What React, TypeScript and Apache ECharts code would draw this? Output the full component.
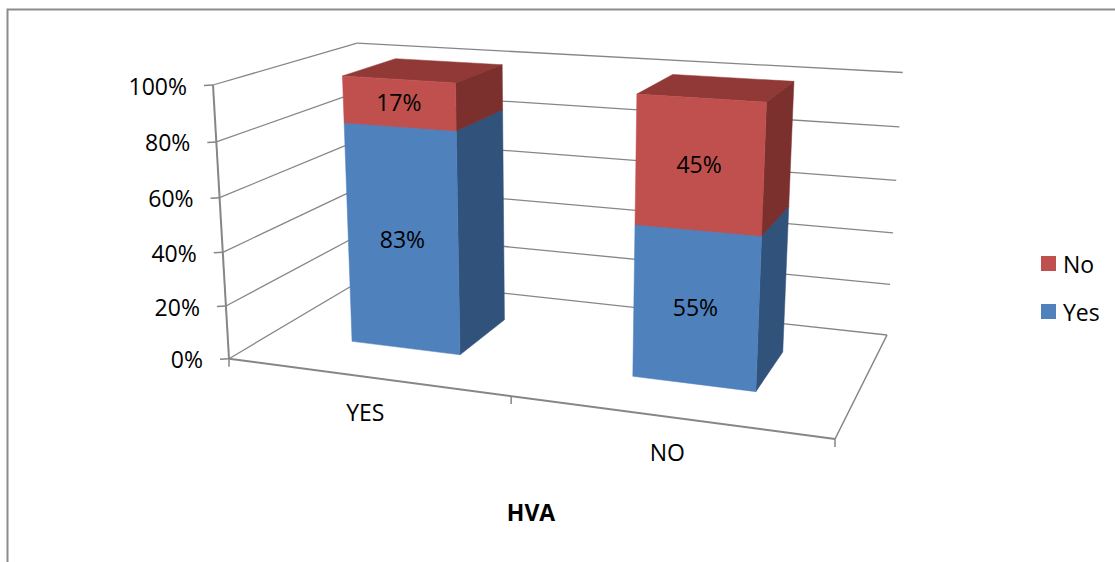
import React, { useEffect, useRef } from "react";
import * as echarts from "echarts";

const categories = ["YES", "NO"];
const seriesYes = [83, 55];
const seriesNo = [17, 45];
const valueTicks = [0, 20, 40, 60, 80, 100];
const tickLabels = ["0%", "20%", "40%", "60%", "80%", "100%"];
const axisTitle = "HVA";

// Corners of the plot box on screen, used to derive a perspective camera.
const FRONT_LEFT = [229, 358.7];
const FRONT_RIGHT = [835, 439];
const BACK_RIGHT = [887, 335];
const BACK_LEFT = [365, 278];
const FRONT_LEFT_TOP = [213, 85];
const HEIGHT_W = -0.047;

const FONT = "'Open Sans', 'Noto Sans', sans-serif";
const FONT_SIZE = 23;
const GRID_LINE = "#868686";
const BAR_FRONT = 0.3;
const BAR_BACK = 0.7;
const BAR_SHARE = 0.4;

const COLORS = {
  Yes: { front: "#4F81BD", side: "#31527A", top: "#3D6594" },
  No: { front: "#C0504D", side: "#7B302E", top: "#913937" },
};

// Projective map of the unit cube (x across, y up, z into the page) to the screen.
function makeCamera() {
  const [x0, y0] = FRONT_LEFT;
  const [x1, y1] = FRONT_RIGHT;
  const [x2, y2] = BACK_RIGHT;
  const [x3, y3] = BACK_LEFT;
  const sx = x0 - x1 + x2 - x3;
  const sy = y0 - y1 + y2 - y3;
  const dx1 = x1 - x2;
  const dx2 = x3 - x2;
  const dy1 = y1 - y2;
  const dy2 = y3 - y2;
  const det = dx1 * dy2 - dx2 * dy1;
  const g = (sx * dy2 - dx2 * sy) / det;
  const h = (dx1 * sy - sx * dy1) / det;
  const a = x1 - x0 + g * x1;
  const b = x3 - x0 + h * x3;
  const d = y1 - y0 + g * y1;
  const e = y3 - y0 + h * y3;
  const k = HEIGHT_W;
  const hx = FRONT_LEFT_TOP[0] * (1 + k) - x0;
  const hy = FRONT_LEFT_TOP[1] * (1 + k) - y0;
  return (x: number, y: number, z: number): number[] => {
    const w = g * x + h * z + k * y + 1;
    return [(a * x + b * z + hx * y + x0) / w, (d * x + e * z + hy * y + y0) / w];
  };
}
const project = makeCamera();

// Converts a value on the hidden cartesian axes to unit-cube coordinates.
function toUnit(params: any, api: any, cat: number, value: number) {
  const cs = params.coordSys;
  const p = api.coord([cat, value]);
  return { x: (p[0] - cs.x) / cs.width, y: 1 - (p[1] - cs.y) / cs.height, band: api.size([1, 0])[0] / cs.width };
}

function line(a: number[], b: number[], width = 1.3, color = GRID_LINE) {
  return {
    type: "line",
    shape: { x1: a[0], y1: a[1], x2: b[0], y2: b[1] },
    style: { stroke: color, lineWidth: width, fill: "none" },
    silent: true,
  };
}

function label(text: string, x: number, y: number, align = "center") {
  return {
    type: "text",
    style: {
      text,
      x,
      y,
      fill: "#000",
      textAlign: align,
      textVerticalAlign: "middle",
      fontFamily: FONT,
      fontSize: FONT_SIZE,
    },
    silent: true,
  };
}

// One wall gridline pair, its axis tick and its percentage label.
function renderWallTick(params: any, api: any) {
  const idx = params.dataIndex;
  const u = toUnit(params, api, 0, api.value(1));
  const front = project(0, u.y, 0);
  const back = project(0, u.y, 1);
  const right = project(1, u.y, 1);
  return {
    type: "group",
    children: [
      line(front, back),
      line(back, right),
      line([front[0] - 9, front[1] + 0.5], front, 1.5),
      label(tickLabels[idx], front[0] - 26, front[1] + 0.5, "right"),
    ],
  };
}

// Left axis, floor edges, category ticks and category labels.
function renderFloor(params: any, api: any) {
  const idx = params.dataIndex;
  const u = toUnit(params, api, idx, 0);
  const children: any[] = [];
  const leftTick = project(u.x - u.band / 2, 0, 0);
  children.push(line(leftTick, [leftTick[0], leftTick[1] + 8], 1.5));
  if (idx === categories.length - 1) {
    const a = project(0, 0, 0);
    const b = project(1, 0, 0);
    const c = project(1, 0, 1);
    const top = project(0, 1, 0);
    children.push(line(a, b, 2), line(b, c, 1.5), line(a, top, 2));
    children.push(line(b, [b[0], b[1] + 8], 1.5));
  }
  const c = project(u.x, 0, 0);
  children.push(label(categories[idx], c[0], c[1] + 35));
  return { type: "group", children };
}

// A stacked 3D column segment: front, side and top faces plus the value label.
function makeBarRenderer(colors: { front: string; side: string; top: string }) {
  return (params: any, api: any) => {
    const cat = api.value(0);
    const base = api.value(1);
    const top = api.value(2);
    const lo = toUnit(params, api, cat, base);
    const hi = toUnit(params, api, cat, top);
    const half = (lo.band * BAR_SHARE) / 2;
    const x0 = lo.x - half;
    const x1 = lo.x + half;
    const face = (pts: number[][], fill: string) => ({
      type: "polygon",
      shape: { points: pts },
      style: { fill, stroke: fill, lineWidth: 0.5 },
      silent: true,
    });
    const mid = project(lo.x, (lo.y + hi.y) / 2, BAR_FRONT);
    return {
      type: "group",
      children: [
        face(
          [project(x0, hi.y, BAR_FRONT), project(x1, hi.y, BAR_FRONT), project(x1, hi.y, BAR_BACK), project(x0, hi.y, BAR_BACK)],
          colors.top,
        ),
        face(
          [project(x1, lo.y, BAR_FRONT), project(x1, lo.y, BAR_BACK), project(x1, hi.y, BAR_BACK), project(x1, hi.y, BAR_FRONT)],
          colors.side,
        ),
        face(
          [project(x0, lo.y, BAR_FRONT), project(x1, lo.y, BAR_FRONT), project(x1, hi.y, BAR_FRONT), project(x0, hi.y, BAR_FRONT)],
          colors.front,
        ),
        label(`${top - base}%`, mid[0], mid[1] - 1),
      ],
    };
  };
}

function buildOption() {
  const yesData = seriesYes.map((v, i) => [i, 0, v]);
  const noData = seriesNo.map((v, i) => [i, seriesYes[i], seriesYes[i] + v]);
  return {
    animation: false,
    backgroundColor: "#fff",
    title: {
      text: axisTitle,
      left: 531,
      top: 500,
      padding: 0,
      textAlign: "center",
      textStyle: { fontFamily: FONT, fontSize: FONT_SIZE, fontWeight: "bold", color: "#000" },
    },
    legend: {
      data: ["No", "Yes"],
      orient: "vertical",
      left: 1041,
      top: 252,
      padding: 0,
      icon: "rect",
      itemWidth: 15,
      itemHeight: 15,
      itemGap: 25,
      selectedMode: false,
      textStyle: { fontFamily: FONT, fontSize: FONT_SIZE, color: "#000", padding: [0, 0, 0, 2] },
    },
    grid: { left: 100, top: 100, width: 600, height: 300 },
    xAxis: { type: "category", data: categories, show: false },
    yAxis: { type: "value", min: 0, max: 100, interval: 20, show: false },
    graphic: [
      {
        type: "polyline",
        shape: { points: [[7.5, 562], [7.5, 9.5], [1115, 9.5]] },
        style: { stroke: "#8C8C8C", lineWidth: 2, fill: "none" },
        silent: true,
      },
    ],
    series: [
      {
        type: "custom",
        name: "walls",
        coordinateSystem: "cartesian2d",
        renderItem: renderWallTick,
        data: valueTicks.map((t) => [0, t]),
        encode: { x: 0, y: 1 },
        silent: true,
      },
      {
        type: "custom",
        name: "floor",
        coordinateSystem: "cartesian2d",
        renderItem: renderFloor,
        data: categories.map((_, i) => [i, 0]),
        encode: { x: 0, y: 1 },
        silent: true,
      },
      {
        type: "custom",
        name: "Yes",
        coordinateSystem: "cartesian2d",
        renderItem: makeBarRenderer(COLORS.Yes),
        itemStyle: { color: COLORS.Yes.front },
        data: yesData,
        encode: { x: 0, y: [1, 2] },
        silent: true,
      },
      {
        type: "custom",
        name: "No",
        coordinateSystem: "cartesian2d",
        renderItem: makeBarRenderer(COLORS.No),
        itemStyle: { color: COLORS.No.front },
        data: noData,
        encode: { x: 0, y: [1, 2] },
        silent: true,
      },
    ],
  };
}

export default function App() {
  const ref = useRef<HTMLDivElement>(null);
  useEffect(() => {
    const chart = echarts.init(ref.current!, undefined, { renderer: "svg" });
    chart.setOption(buildOption() as any);
    return () => chart.dispose();
  }, []);
  return <div ref={ref} style={{ position: "fixed", left: 0, top: 0, width: 1115, height: 562 }} />;
}
